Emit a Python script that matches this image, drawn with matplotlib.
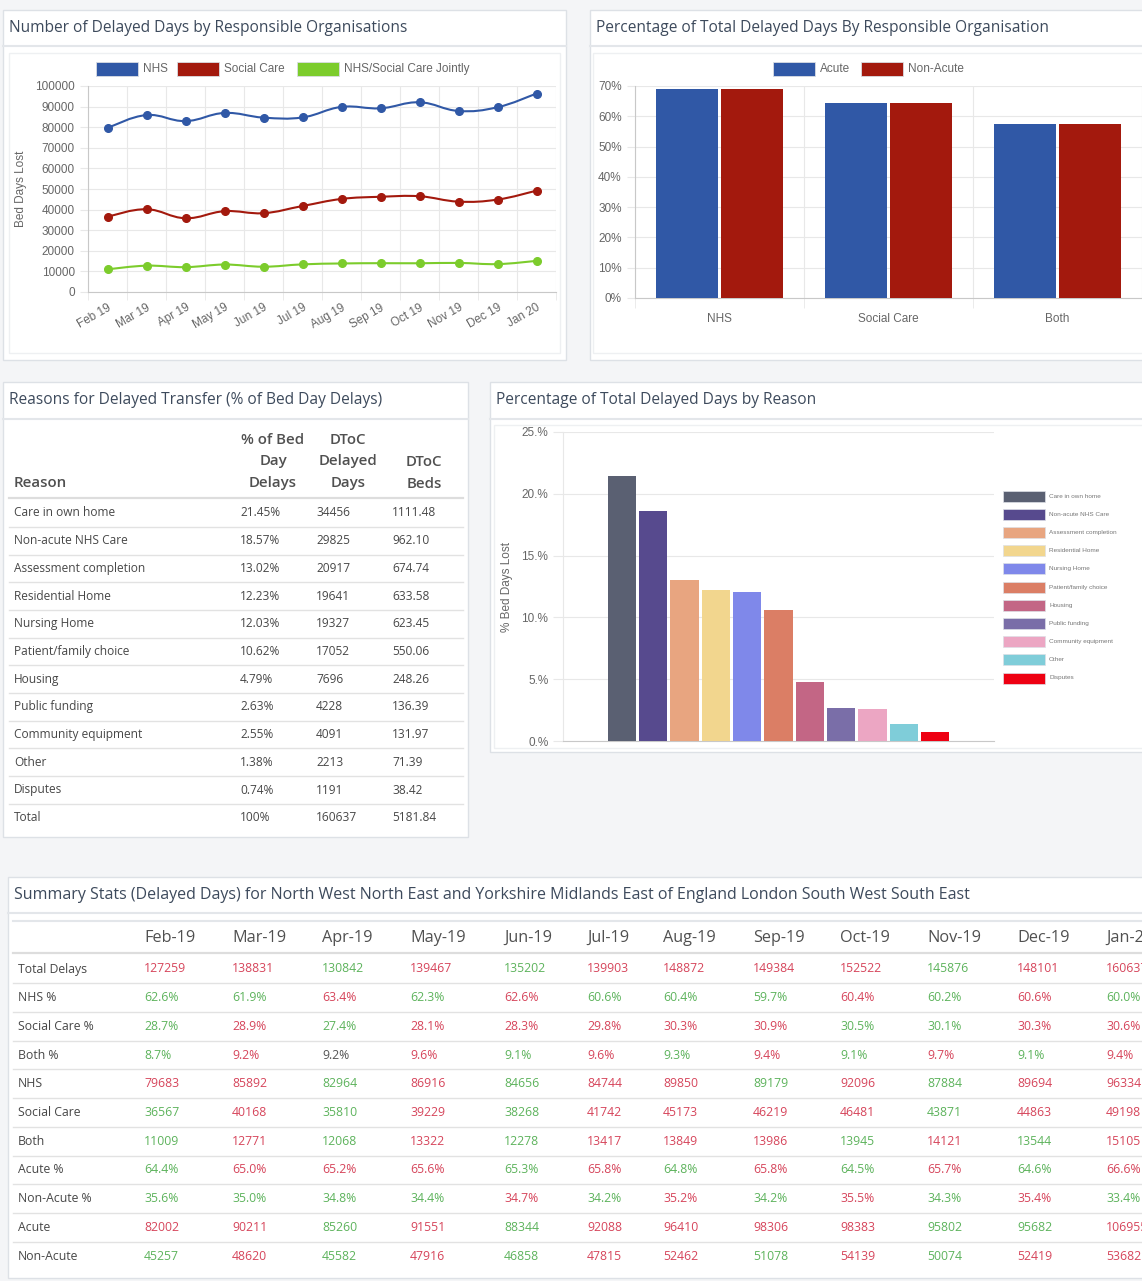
import matplotlib
matplotlib.use("Agg")
import matplotlib.pyplot as plt
from matplotlib.patches import Rectangle, PathPatch
from matplotlib.path import Path
import matplotlib.ticker as mpltick

# Figure size in pixels
W, H = 1142, 1281

# Line chart data
months = ["Feb 19", "Mar 19", "Apr 19", "May 19", "Jun 19", "Jul 19",
          "Aug 19", "Sep 19", "Oct 19", "Nov 19", "Dec 19", "Jan 20"]
nhs_days = [79683, 85892, 82964, 86916, 84656, 84744, 89850, 89179, 92096, 87884, 89694, 96334]
social_days = [36567, 40168, 35810, 39229, 38268, 41742, 45173, 46219, 46481, 43871, 44863, 49198]
joint_days = [11009, 12771, 12068, 13322, 12278, 13417, 13849, 13986, 13945, 14121, 13544, 15105]
line_series = ["NHS", "Social Care", "NHS/Social Care Jointly"]

# Acute / non-acute split by organisation
org_groups = ["NHS", "Social Care", "Both"]
acute_pct = [68.9, 64.4, 57.5]
nonacute_pct = [68.9, 64.4, 57.5]

# Reasons
reasons = ["Care in own home", "Non-acute NHS Care", "Assessment completion", "Residential Home",
           "Nursing Home", "Patient/family choice", "Housing", "Public funding",
           "Community equipment", "Other", "Disputes"]
reason_pct = [21.45, 18.57, 13.02, 12.23, 12.03, 10.62, 4.79, 2.63, 2.55, 1.38, 0.74]
reason_days = [34456, 29825, 20917, 19641, 19327, 17052, 7696, 4228, 4091, 2213, 1191]
reason_beds = [1111.48, 962.10, 674.74, 633.58, 623.45, 550.06, 248.26, 136.39, 131.97, 71.39, 38.42]
reason_totals = ["100%", "160637", "5181.84"]
reason_colors = ["#5a6072", "#574a8e", "#e8a580", "#f2d68e", "#7f88ea", "#db7e65",
                 "#c36685", "#7a6ea8", "#eca6c3", "#7fcdd9", "#ee0012"]

# Summary table
summary_months = ["Feb-19", "Mar-19", "Apr-19", "May-19", "Jun-19", "Jul-19",
                  "Aug-19", "Sep-19", "Oct-19", "Nov-19", "Dec-19", "Jan-20"]
row_names = ["Total Delays", "NHS %", "Social Care %", "Both %", "NHS", "Social Care", "Both",
             "Acute %", "Non-Acute %", "Acute", "Non-Acute"]
total_delays = [127259, 138831, 130842, 139467, 135202, 139903, 148872, 149384, 152522, 145876, 148101, 160637]
nhs_share = [62.6, 61.9, 63.4, 62.3, 62.6, 60.6, 60.4, 59.7, 60.4, 60.2, 60.6, 60.0]
social_share = [28.7, 28.9, 27.4, 28.1, 28.3, 29.8, 30.3, 30.9, 30.5, 30.1, 30.3, 30.6]
both_share = [8.7, 9.2, 9.2, 9.6, 9.1, 9.6, 9.3, 9.4, 9.1, 9.7, 9.1, 9.4]
acute_share = [64.4, 65.0, 65.2, 65.6, 65.3, 65.8, 64.8, 65.8, 64.5, 65.7, 64.6, 66.6]
nonacute_share = [35.6, 35.0, 34.8, 34.4, 34.7, 34.2, 35.2, 34.2, 35.5, 34.3, 35.4, 33.4]
acute_days = [82002, 90211, 85260, 91551, 88344, 92088, 96410, 98306, 98383, 95802, 95682, 106955]
nonacute_days = [45257, 48620, 45582, 47916, 46858, 47815, 52462, 51078, 54139, 50074, 52419, 53682]
# R = worse (red), G = better (green), N = unchanged
row_flags = ["RRGRGRRRRGRR", "GGRGRGGGRGRG", "GRGRRRRRGGRR", "GRNRGRGRGRGR",
             "RRGRGRRGRGRR", "GRGRGRRRRGRR", "GRGRGRRRGRGR", "GRRRGRGRGRGR",
             "GGGGRGRGRGRG", "RRGRGRRRRGGR", "GRGRGRRGRGRR"]

# Styling
BLUE, RED, GREEN = "#3058a6", "#a3190d", "#7ccc2c"
GRID = "#e8e8e8"
AXC = "#c8c8c8"
TICK = "#666666"
TITLE = "#3d4a5c"
TXT = "#474747"
FLAG_COL = {"R": "#d6455b", "G": "#5db35c", "N": "#555555"}
SANS = "Liberation Sans"
OPEN = "Open Sans"

fig = plt.figure(figsize=(W / 100, H / 100), dpi=100)
fig.patch.set_facecolor("#f4f5f7")

bg = fig.add_axes([0, 0, 1, 1])
bg.set_xlim(0, W)
bg.set_ylim(H, 0)
bg.axis("off")


def px_axes(x, y, w, h):
    return fig.add_axes([x / W, 1 - (y + h) / H, w / W, h / H])


def panel(x0, y0, x1, y1, title, sep, inner=None, tsize=11.2):
    bg.add_patch(Rectangle((x0, y0), x1 - x0, y1 - y0, facecolor="white",
                           edgecolor="#dde1e6", lw=1.0))
    bg.plot([x0, x1], [sep, sep], color="#e3e6ea", lw=1.5)
    bg.text(x0 + 6, (y0 + sep) / 2, title, family=OPEN, fontsize=tsize, color=TITLE,
            va="center", ha="left")
    if inner:
        ix0, iy0, ix1, iy1 = inner
        bg.add_patch(Rectangle((ix0, iy0), ix1 - ix0, iy1 - iy0, facecolor="none",
                               edgecolor="#eef0f2", lw=1.0))


def legend_row(items, y):
    for x, label, col in items:
        bg.add_patch(Rectangle((x, y - 7), 42, 14, facecolor=col, edgecolor="#d9dde3", lw=0.6))
        bg.text(x + 47, y, label, family=SANS, fontsize=8.5, color=TICK, va="center")


def style_axes(ax):
    for s in ("top", "right"):
        ax.spines[s].set_visible(False)
    ax.spines["left"].set_color(AXC)
    ax.spines["bottom"].set_color(AXC)
    ax.set_facecolor("none")
    ax.tick_params(axis="both", colors=AXC, labelcolor=TICK, labelsize=8.5, width=0.8)
    for lab in ax.get_xticklabels() + ax.get_yticklabels():
        lab.set_family(SANS)


# ---------------- Panel 1: line chart ----------------
panel(3, 10, 566, 360, "Number of Delayed Days by Responsible Organisations", 46,
      inner=(9, 53, 560, 353))
legend_row([(96, line_series[0], BLUE), (177, line_series[1], RED), (297, line_series[2], GREEN)], 69)

ax1 = px_axes(88, 86, 468, 206)
ax1.set_xlim(-0.5, len(months) - 0.5)
ax1.set_ylim(0, 100000)
xs = list(range(len(months)))


def smooth_path(xv, yv, t=0.4):
    verts = [(xv[0], yv[0])]
    codes = [Path.MOVETO]
    n = len(xv)
    for i in range(n - 1):
        p0 = (xv[max(i - 1, 0)], yv[max(i - 1, 0)])
        p1 = (xv[i], yv[i])
        p2 = (xv[i + 1], yv[i + 1])
        p3 = (xv[min(i + 2, n - 1)], yv[min(i + 2, n - 1)])
        c1 = (p1[0] + t / 2 * (p2[0] - p0[0]), p1[1] + t / 2 * (p2[1] - p0[1]))
        c2 = (p2[0] - t / 2 * (p3[0] - p1[0]), p2[1] - t / 2 * (p3[1] - p1[1]))
        verts += [c1, c2, p2]
        codes += [Path.CURVE4] * 3
    return Path(verts, codes)


for vals, col in ((nhs_days, BLUE), (social_days, RED), (joint_days, GREEN)):
    ax1.add_patch(PathPatch(smooth_path(xs, vals), facecolor="none", edgecolor=col, lw=1.5, zorder=3))
    ax1.plot(xs, vals, "o", color=col, ms=5.5, zorder=4)

ax1.yaxis.set_major_locator(mpltick.MultipleLocator(10000))
ax1.set_xticks(xs)
ax1.set_xticklabels(months, rotation=30, ha="right", rotation_mode="anchor")
ax1.set_xticks([i - 0.5 for i in range(len(months) + 1)], minor=True)
ax1.grid(True, which="minor", axis="x", color=GRID, lw=0.8)
ax1.grid(True, which="major", axis="y", color=GRID, lw=0.8)
style_axes(ax1)
ax1.tick_params(axis="x", which="major", length=0, pad=7)
ax1.tick_params(axis="x", which="minor", length=6, color=GRID)
ax1.tick_params(axis="y", length=6, color=GRID)
ax1.set_ylabel("Bed Days Lost", family=SANS, fontsize=8.5, color=TICK)
ax1.yaxis.set_label_coords(-0.13, 0.5)

# ---------------- Panel 2: acute / non-acute bars ----------------
panel(590, 10, W + 5, 360, "Percentage of Total Delayed Days By Responsible Organisation", 46,
      inner=(593, 53, W + 5, 353))
legend_row([(773, "Acute", BLUE), (861, "Non-Acute", RED)], 69)

ax2 = px_axes(635, 86, 507, 212)
gx = list(range(len(org_groups)))
ax2.bar([g - 0.192 for g in gx], acute_pct, width=0.367, color=BLUE, zorder=3)
ax2.bar([g + 0.192 for g in gx], nonacute_pct, width=0.367, color=RED, zorder=3)
ax2.set_xlim(-0.5, len(org_groups) - 0.5)
ax2.set_ylim(0, 70)
ax2.yaxis.set_major_locator(mpltick.MultipleLocator(10))
ax2.yaxis.set_major_formatter(mpltick.FuncFormatter(lambda v, p: f"{v:.0f}%"))
ax2.set_xticks(gx)
ax2.set_xticklabels(org_groups)
ax2.set_xticks([g - 0.5 for g in range(len(org_groups) + 1)], minor=True)
ax2.grid(True, which="minor", axis="x", color=GRID, lw=0.8)
ax2.grid(True, which="major", axis="y", color=GRID, lw=0.8)
style_axes(ax2)
ax2.tick_params(axis="x", which="major", length=0, pad=11)
ax2.tick_params(axis="x", which="minor", length=7, color=GRID)
ax2.tick_params(axis="y", length=6, color=GRID)

# ---------------- Panel 3: reasons table ----------------
panel(3, 382, 468, 837, "Reasons for Delayed Transfer (% of Bed Day Delays)", 419)
hdr_kw = dict(family=OPEN, fontsize=10.8, color="#505050", weight="semibold", va="center")
bg.text(14, 483, "Reason", ha="left", **hdr_kw)
for j, line in enumerate(["% of Bed", "Day", "Delays"]):
    bg.text(273, 440 + 21.5 * j, line, ha="center", **hdr_kw)
for j, line in enumerate(["DToC", "Delayed", "Days"]):
    bg.text(348, 440 + 21.5 * j, line, ha="center", **hdr_kw)
for j, line in enumerate(["DToC", "Beds"]):
    bg.text(424, 462 + 21.5 * j, line, ha="center", **hdr_kw)
bg.plot([9, 463], [498, 498], color="#dddddd", lw=1.6)
row_h = 27.7
cell_kw = dict(family=OPEN, fontsize=8.6, color=TXT, va="center", ha="left")
for i, name in enumerate(reasons):
    y = 513 + row_h * i
    bg.text(14, y, name, **cell_kw)
    bg.text(240, y, f"{reason_pct[i]:.2f}%", **cell_kw)
    bg.text(316, y, f"{reason_days[i]}", **cell_kw)
    bg.text(392, y, f"{reason_beds[i]:.2f}", **cell_kw)
    bg.plot([9, 463], [y + row_h / 2, y + row_h / 2], color="#e2e2e2", lw=1.0)
y = 513 + row_h * len(reasons)
bg.text(14, y, "Total", **cell_kw)
for xx, val in zip((240, 316, 392), reason_totals):
    bg.text(xx, y, val, **cell_kw)

# ---------------- Panel 4: reasons bar chart ----------------
panel(490, 382, W + 5, 752, "Percentage of Total Delayed Days by Reason", 419,
      inner=(494, 425, W + 5, 748))
ax4 = px_axes(563, 432, 431, 309)
n = len(reasons)
slot = 0.8 / n
for i, (val, col) in enumerate(zip(reason_pct, reason_colors)):
    ax4.bar((i - (n - 1) / 2) * slot, val, width=slot * 0.9, color=col, zorder=3)
ax4.set_xlim(-0.5, 0.5)
ax4.set_ylim(0, 25)
ax4.yaxis.set_major_locator(mpltick.MultipleLocator(5))
ax4.yaxis.set_major_formatter(mpltick.FuncFormatter(lambda v, p: f"{v:.0f}.%"))
ax4.set_xticks([])
ax4.grid(True, axis="y", color=GRID, lw=0.8)
style_axes(ax4)
ax4.spines["left"].set_color(GRID)
ax4.tick_params(axis="y", length=7, color=GRID)
ax4.set_ylabel("% Bed Days Lost", family=SANS, fontsize=8.5, color=TICK)
ax4.yaxis.set_label_coords(-0.115, 0.5)
for i, (label, col) in enumerate(zip(reasons, reason_colors)):
    yy = 496 + 18.2 * i
    bg.add_patch(Rectangle((1003, yy - 5.5), 42, 11, facecolor=col, edgecolor="#dde0e6", lw=0.5))
    bg.text(1049, yy, label, family=SANS, fontsize=4.6, color="#777777", va="center")

# ---------------- Panel 5: summary table ----------------
panel(8, 877, W + 5, 1278,
      "Summary Stats (Delayed Days) for North West North East and Yorkshire Midlands East of England London South West South East",
      913, tsize=11.5)
bg.plot([13, W], [921, 921], color="#e3e6ea", lw=1.5)
col_x = [144, 232, 322, 410, 504, 587, 663, 753, 840, 927, 1017, 1106]
for xx, m in zip(col_x, summary_months):
    bg.text(xx, 938, m, family=OPEN, fontsize=11.7, color="#505050", va="center", ha="left")
bg.plot([13, W], [953, 953], color="#dddddd", lw=1.6)

row_vals = [
    [str(v) for v in total_delays],
    [f"{v:.1f}%" for v in nhs_share],
    [f"{v:.1f}%" for v in social_share],
    [f"{v:.1f}%" for v in both_share],
    [str(v) for v in nhs_days],
    [str(v) for v in social_days],
    [str(v) for v in joint_days],
    [f"{v:.1f}%" for v in acute_share],
    [f"{v:.1f}%" for v in nonacute_share],
    [str(v) for v in acute_days],
    [str(v) for v in nonacute_days],
]
srow_h = 28.7
for r, (name, vals, flags) in enumerate(zip(row_names, row_vals, row_flags)):
    y = 969 + srow_h * r
    bg.text(18, y, name, family=OPEN, fontsize=8.8, color=TXT, va="center", ha="left")
    for xx, v, f in zip(col_x, vals, flags):
        bg.text(xx, y, v, family=OPEN, fontsize=8.8, color=FLAG_COL[f], va="center", ha="left")
    if r < len(row_names) - 1:
        bg.plot([13, W], [y + srow_h / 2, y + srow_h / 2], color="#e2e2e2", lw=1.0)

fig.savefig("out.png", dpi=100, facecolor=fig.get_facecolor())
